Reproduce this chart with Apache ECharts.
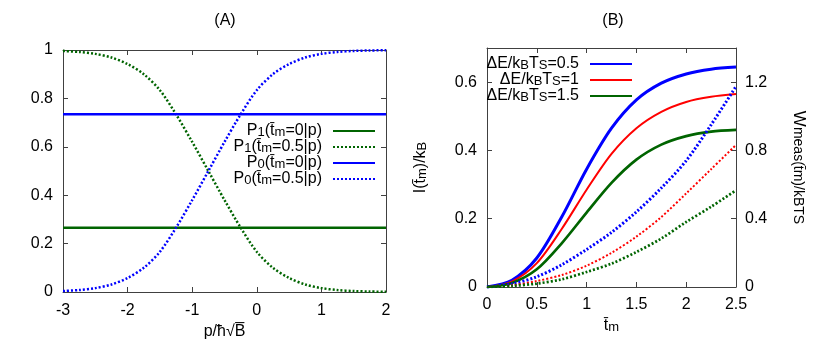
<!DOCTYPE html>
<html>
<head>
<meta charset="utf-8">
<script src="https://cdn.jsdelivr.net/npm/echarts@6/dist/echarts.min.js"></script>
<style>html,body{margin:0;padding:0;background:#fff}#c{width:830px;height:346px}</style>
</head>
<body>
<div id="c"></div>
<script>
// ---- Panel A data ----
const pVals = [-3,-2.75,-2.5,-2.25,-2,-1.75,-1.5,-1.25,-1,-0.75,-0.5,-0.25,0,0.25,0.5,0.75,1,1.25,1.5,1.75,2];
const p0Half = [0.004,0.008,0.016,0.031,0.058,0.10,0.166,0.266,0.38,0.5,0.62,0.734,0.834,0.90,0.942,0.969,0.984,0.992,0.996,0.998,0.999];
const p1Half = [0.996,0.992,0.984,0.969,0.942,0.90,0.834,0.734,0.62,0.5,0.38,0.266,0.166,0.10,0.058,0.031,0.016,0.008,0.004,0.002,0.001];
const pEnds = [-3, 2];
const p1Zero = [0.266, 0.266];
const p0Zero = [0.734, 0.734];
const xTicksA = [-3,-2,-1,0,1,2];
const yTicksA = [0,0.2,0.4,0.6,0.8,1];

// ---- Panel B data ----
const tVals = [0,0.25,0.5,0.75,1,1.25,1.5,1.75,2,2.25,2.5];
const info05 = [0,0.02,0.085,0.205,0.345,0.465,0.548,0.597,0.624,0.638,0.644];
const info10 = [0,0.016,0.07,0.17,0.285,0.39,0.465,0.513,0.542,0.557,0.565];
const info15 = [0,0.012,0.052,0.128,0.218,0.305,0.373,0.417,0.442,0.455,0.46];
const work05 = [0,0.018,0.06,0.13,0.22,0.32,0.44,0.58,0.74,0.95,1.175];
const work10 = [0,0.01,0.035,0.07,0.125,0.2,0.295,0.41,0.548,0.69,0.832];
const work15 = [0,0.006,0.02,0.045,0.088,0.137,0.205,0.284,0.381,0.47,0.567];
const xTicksB = [0,0.5,1,1.5,2,2.5];
const yTicksBLeft = [0,0.2,0.4,0.6];
const yTicksBRight = [0,0.4,0.8,1.2];

const legendA = {
  p1z: 'P{s|1}(t̄{s|m}=0|p)',
  p1h: 'P{s|1}(t̄{s|m}=0.5|p)',
  p0z: 'P{s|0}(t̄{s|m}=0|p)',
  p0h: 'P{s|0}(t̄{s|m}=0.5|p)'
};
const legendB = {
  e05: 'ΔE/k{s|B}T{s|S}=0.5',
  e10: 'ΔE/k{s|B}T{s|S}=1',
  e15: 'ΔE/k{s|B}T{s|S}=1.5'
};

const zip = (xs, ys) => xs.map((x, i) => [x, ys[i]]);
const BLUE = '#0000ff', GREEN = '#006400', RED = '#ff0000', FRAME = '#404040';
const FS = 16;
const sub = { fontSize: 13, lineHeight: 6, verticalAlign: 'bottom', fontFamily: 'Liberation Sans', color: '#000' };

function fmt(allowed) {
  return function (v) {
    const r = Math.round(v * 1000) / 1000;
    return allowed.some(a => Math.abs(a - r) < 1e-6) ? String(r) : '';
  };
}
function axisCommon(extra) {
  return Object.assign({
    type: 'value',
    axisLine: { show: true, onZero: false, lineStyle: { color: FRAME, width: 1 } },
    axisTick: { show: true, inside: true, length: 5, lineStyle: { color: FRAME } },
    splitLine: { show: false },
    axisLabel: { show: true, color: '#000', fontSize: FS, fontFamily: 'Liberation Sans' }
  }, extra);
}

const chart = echarts.init(document.getElementById('c'), null, { renderer: 'canvas' });
const option = {
  animation: false,
  backgroundColor: '#fff',
  textStyle: { fontFamily: 'Liberation Sans', color: '#000' },
  graphic: [
    { type: 'text', x: 225, y: 21, style: { text: '(A)', fontSize: FS, fontFamily: 'Liberation Sans', fill: '#000', textAlign: 'center', textVerticalAlign: 'middle' } },
    { type: 'text', x: 613, y: 21, style: { text: '(B)', fontSize: FS, fontFamily: 'Liberation Sans', fill: '#000', textAlign: 'center', textVerticalAlign: 'middle' } }
  ],
  grid: [
    { left: 63, top: 50, width: 323, height: 242 },
    { left: 487, top: 48, width: 249, height: 239 }
  ],
  xAxis: [
    axisCommon({ gridIndex: 0, position: 'bottom', min: -3, max: 2, interval: 1,
      axisLabel: { color: '#000', fontSize: FS, margin: 11, formatter: fmt(xTicksA) },
      name: 'p/ħ√B̅', nameLocation: 'middle', nameGap: 31,
      nameTextStyle: { fontSize: FS, color: '#000' } }),
    axisCommon({ gridIndex: 0, position: 'top', min: -3, max: 2, interval: 1, axisLabel: { show: false } }),
    axisCommon({ gridIndex: 1, position: 'bottom', min: 0, max: 2.5, interval: 0.5,
      axisLabel: { color: '#000', fontSize: FS, margin: 10, formatter: fmt(xTicksB) },
      name: 't̄{s|m}', nameLocation: 'middle', nameGap: 25,
      nameTextStyle: { fontSize: FS, color: '#000', lineHeight: 16, rich: { s: sub } } }),
    axisCommon({ gridIndex: 1, position: 'top', min: 0, max: 2.5, interval: 0.5, axisLabel: { show: false } })
  ],
  yAxis: [
    axisCommon({ gridIndex: 0, position: 'left', min: 0, max: 1, interval: 0.2,
      axisLabel: { color: '#000', fontSize: FS, margin: 10, formatter: fmt(yTicksA) } }),
    axisCommon({ gridIndex: 0, position: 'right', min: 0, max: 1, interval: 0.2, axisLabel: { show: false } }),
    axisCommon({ gridIndex: 1, position: 'left', min: 0, max: 0.7, interval: 0.2,
      axisLabel: { color: '#000', fontSize: FS, margin: 10, formatter: fmt(yTicksBLeft) },
      name: 'I(t̄{s|m})/k{s|B}', nameLocation: 'middle', nameGap: 58, nameRotate: 90,
      nameTextStyle: { fontSize: FS, color: '#000', lineHeight: 16, rich: { s: sub } } }),
    axisCommon({ gridIndex: 1, position: 'right', min: 0, max: 1.4, interval: 0.4,
      axisLabel: { color: '#000', fontSize: FS, margin: 9, formatter: fmt(yTicksBRight) },
      name: 'W{s|meas(t̄m)/k}{ss|B}{s|T}{ss|S}', nameLocation: 'middle', nameGap: 55, nameRotate: -90,
      nameTextStyle: { fontSize: 17, color: '#000', lineHeight: 16,
        rich: { s: { fontSize: 14, lineHeight: 6, verticalAlign: 'bottom', fontFamily: 'Liberation Sans', color: '#000' },
                ss: { fontSize: 14, lineHeight: 0, verticalAlign: 'bottom', fontFamily: 'Liberation Sans', color: '#000' } } } })
  ],
  legend: [
    { data: ['p1z', 'p1h', 'p0z', 'p0h'], orient: 'vertical', align: 'right',
      right: 454, top: 123, itemWidth: 42, itemHeight: 16, itemGap: 0, padding: 0,
      itemStyle: { opacity: 0 },
      formatter: n => legendA[n],
      textStyle: { fontSize: FS, color: '#000', lineHeight: 16, padding: [0, 6, 0, 0], rich: { s: sub } } },
    { data: ['e05', 'e10', 'e15'], orient: 'vertical', align: 'right',
      right: 197, top: 56, itemWidth: 42, itemHeight: 16, itemGap: 0, padding: 0,
      itemStyle: { opacity: 0 },
      formatter: n => legendB[n],
      textStyle: { fontSize: FS, color: '#000', lineHeight: 16, padding: [0, 6, 0, 0], rich: { s: sub } } }
  ],
  series: [
    { name: 'p1z', type: 'line', xAxisIndex: 0, yAxisIndex: 0, symbol: 'none', data: zip(pEnds, p1Zero),
      lineStyle: { color: GREEN, width: 2.5 }, itemStyle: { color: GREEN } },
    { name: 'p1h', type: 'line', xAxisIndex: 0, yAxisIndex: 0, symbol: 'none', smooth: 0.3, data: zip(pVals, p1Half),
      lineStyle: { color: GREEN, width: 2.5, type: [2, 2] }, itemStyle: { color: GREEN } },
    { name: 'p0z', type: 'line', xAxisIndex: 0, yAxisIndex: 0, symbol: 'none', data: zip(pEnds, p0Zero),
      lineStyle: { color: BLUE, width: 2.5 }, itemStyle: { color: BLUE } },
    { name: 'p0h', type: 'line', xAxisIndex: 0, yAxisIndex: 0, symbol: 'none', smooth: 0.3, data: zip(pVals, p0Half),
      lineStyle: { color: BLUE, width: 2.5, type: [2, 2] }, itemStyle: { color: BLUE } },

    { name: 'e05', type: 'line', xAxisIndex: 2, yAxisIndex: 2, symbol: 'none', smooth: 0.3, data: zip(tVals, info05),
      lineStyle: { color: BLUE, width: 3 }, itemStyle: { color: BLUE } },
    { name: 'e10', type: 'line', xAxisIndex: 2, yAxisIndex: 2, symbol: 'none', smooth: 0.3, data: zip(tVals, info10),
      lineStyle: { color: RED, width: 2 }, itemStyle: { color: RED } },
    { name: 'e15', type: 'line', xAxisIndex: 2, yAxisIndex: 2, symbol: 'none', smooth: 0.3, data: zip(tVals, info15),
      lineStyle: { color: GREEN, width: 2.7 }, itemStyle: { color: GREEN } },
    { name: 'w05', type: 'line', xAxisIndex: 2, yAxisIndex: 3, symbol: 'none', smooth: 0.3, data: zip(tVals, work05),
      lineStyle: { color: BLUE, width: 3, type: [2, 2] }, itemStyle: { color: BLUE } },
    { name: 'w10', type: 'line', xAxisIndex: 2, yAxisIndex: 3, symbol: 'none', smooth: 0.3, data: zip(tVals, work10),
      lineStyle: { color: RED, width: 2, type: [2, 2] }, itemStyle: { color: RED } },
    { name: 'w15', type: 'line', xAxisIndex: 2, yAxisIndex: 3, symbol: 'none', smooth: 0.3, data: zip(tVals, work15),
      lineStyle: { color: GREEN, width: 2.7, type: [2, 2] }, itemStyle: { color: GREEN } }
  ]
};
chart.setOption(option);
</script>
</body>
</html>
